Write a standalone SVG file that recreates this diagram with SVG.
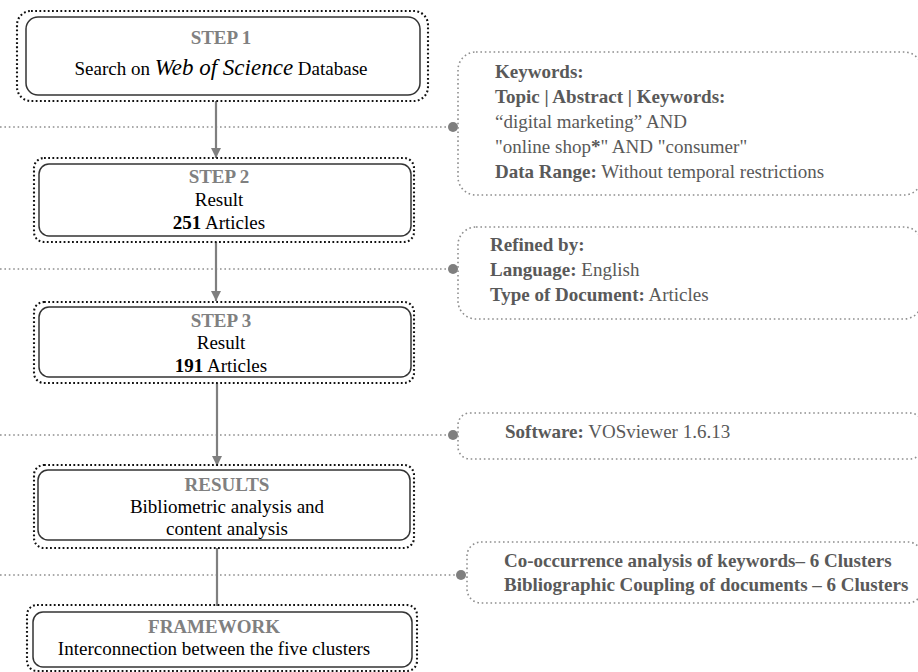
<svg xmlns="http://www.w3.org/2000/svg" width="918" height="672" viewBox="0 0 918 672">
<defs>
<style>
.outer{fill:none;stroke:#111;stroke-width:2.1;stroke-dasharray:1.8 2.4}
.inner{fill:#fff;stroke:#333;stroke-width:1.5}
.side{fill:none;stroke:#8f8f8f;stroke-width:1.6;stroke-dasharray:1.6 2.8}
.hline{fill:none;stroke:#8f8f8f;stroke-width:1.6;stroke-dasharray:1.6 2.8}
.vline{fill:none;stroke:#7f7f7f;stroke-width:2.2}
.dot{fill:#7f7f7f}
text{font-family:"Liberation Serif","Times New Roman",serif;font-size:19px}
.lbl{fill:#808080;font-weight:bold;text-anchor:middle}
.main{fill:#000;text-anchor:middle}
.s{fill:#595959}
.b{font-weight:bold}
</style>
<marker id="arr" viewBox="0 0 10 10" refX="10" refY="5" markerWidth="10" markerHeight="10" markerUnits="userSpaceOnUse" orient="auto">
<path d="M0,0 L10,5 L0,10 Z" fill="#7f7f7f"/>
</marker>
</defs>

<g id="connectors">
<line class="hline" x1="0" y1="127" x2="453" y2="127"/>
<line class="hline" x1="0" y1="269" x2="453" y2="269"/>
<line class="hline" x1="0" y1="435" x2="453" y2="435"/>
<line class="hline" x1="0" y1="575" x2="461" y2="575"/>
<circle class="dot" cx="453" cy="127" r="5"/>
<circle class="dot" cx="453" cy="269" r="5"/>
<circle class="dot" cx="453" cy="435" r="5"/>
<circle class="dot" cx="461" cy="575" r="5"/>
<line class="vline" x1="216" y1="101" x2="216" y2="158" marker-end="url(#arr)"/>
<line class="vline" x1="216" y1="242" x2="216" y2="301" marker-end="url(#arr)"/>
<line class="vline" x1="217" y1="383" x2="217" y2="466" marker-end="url(#arr)"/>
<line class="vline" x1="217" y1="548" x2="217" y2="606"/>
</g>

<g id="step1">
<rect class="outer" x="17" y="11" width="411" height="90" rx="14"/>
<rect class="inner" x="26" y="17" width="394" height="78" rx="12"/>
<text class="lbl" x="221" y="44">STEP 1</text>
<text class="main" x="221" y="75">Search on <tspan font-style="italic" font-size="23">Web of Science</tspan> Database</text>
</g>

<g id="step2">
<rect class="outer" x="34" y="158" width="380" height="84" rx="10"/>
<rect class="inner" x="39" y="164" width="372" height="72" rx="10"/>
<text class="lbl" x="219" y="183">STEP 2</text>
<text class="main" x="219" y="206">Result</text>
<text class="main" x="219" y="229"><tspan font-weight="bold">251</tspan> Articles</text>
</g>

<g id="step3">
<rect class="outer" x="34" y="302" width="380" height="81" rx="10"/>
<rect class="inner" x="39" y="307" width="372" height="70" rx="10"/>
<text class="lbl" x="221" y="327">STEP 3</text>
<text class="main" x="221" y="349">Result</text>
<text class="main" x="221" y="372"><tspan font-weight="bold">191</tspan> Articles</text>
</g>

<g id="results">
<rect class="outer" x="34" y="465" width="380" height="83" rx="10"/>
<rect class="inner" x="38" y="470" width="372" height="70" rx="10"/>
<text class="lbl" x="227" y="491">RESULTS</text>
<text class="main" x="227" y="513">Bibliometric analysis and</text>
<text class="main" x="227" y="535">content analysis</text>
</g>

<g id="framework">
<rect class="outer" x="27" y="605" width="390" height="66" rx="10"/>
<rect class="inner" x="33" y="612" width="379" height="55" rx="10"/>
<text class="lbl" x="214" y="633">FRAMEWORK</text>
<text class="main" x="214" y="655">Interconnection between the five clusters</text>
</g>

<g id="note-search">
<rect class="side" x="458" y="52" width="464" height="143" rx="18"/>
<text class="s b" x="495" y="78">Keywords:</text>
<text class="s b" x="495" y="103">Topic | Abstract | Keywords:</text>
<text class="s" x="495" y="128">“digital marketing” AND</text>
<text class="s" x="495" y="153">"online shop<tspan font-weight="bold">*</tspan>" AND "consumer"</text>
<text class="s" x="495" y="178"><tspan font-weight="bold">Data Range:</tspan> Without temporal restrictions</text>
</g>

<g id="note-refine">
<rect class="side" x="458" y="227" width="464" height="92" rx="18"/>
<text class="s b" x="490" y="251">Refined by:</text>
<text class="s" x="490" y="276"><tspan font-weight="bold">Language:</tspan> English</text>
<text class="s" x="490" y="301"><tspan font-weight="bold">Type of Document:</tspan> Articles</text>
</g>

<g id="note-software">
<rect class="side" x="458" y="413" width="464" height="46" rx="12"/>
<text class="s" x="505" y="438"><tspan font-weight="bold">Software:</tspan> VOSviewer 1.6.13</text>
</g>

<g id="note-clusters">
<rect class="side" x="467" y="542" width="455" height="61" rx="14"/>
<text class="s b" x="504" y="567">Co-occurrence analysis of keywords– 6 Clusters</text>
<text class="s b" x="504" y="591">Bibliographic Coupling of documents – 6 Clusters</text>
</g>
</svg>
